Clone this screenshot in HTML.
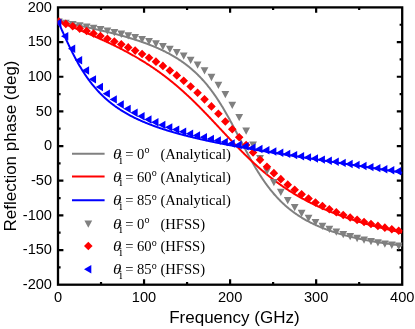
<!DOCTYPE html><html><head><meta charset="utf-8"><style>html,body{margin:0;padding:0;background:#fff;}svg{display:block;will-change:transform}text{font-family:"Liberation Sans",sans-serif;fill:#000}.s{font-family:"Liberation Serif",serif}</style></head><body>
<svg width="415" height="329" viewBox="0 0 415 329">
<rect width="415" height="329" fill="#fff"/>
<defs><clipPath id="c"><rect x="57.60" y="7.00" width="345.00" height="278.10"/></clipPath></defs>
<rect x="58.00" y="7.40" width="344.20" height="277.30" fill="none" stroke="#000" stroke-width="2.30"/>
<path d="M101.03,284.70 v-2.60 M101.03,7.40 v2.60 M144.05,284.70 v-5.40 M144.05,7.40 v5.40 M187.07,284.70 v-2.60 M187.07,7.40 v2.60 M230.10,284.70 v-5.40 M230.10,7.40 v5.40 M273.12,284.70 v-2.60 M273.12,7.40 v2.60 M316.15,284.70 v-5.40 M316.15,7.40 v5.40 M359.18,284.70 v-2.60 M359.18,7.40 v2.60 M58.00,267.37 h2.60 M402.20,267.37 h-2.60 M58.00,250.04 h5.40 M402.20,250.04 h-5.40 M58.00,232.71 h2.60 M402.20,232.71 h-2.60 M58.00,215.38 h5.40 M402.20,215.38 h-5.40 M58.00,198.04 h2.60 M402.20,198.04 h-2.60 M58.00,180.71 h5.40 M402.20,180.71 h-5.40 M58.00,163.38 h2.60 M402.20,163.38 h-2.60 M58.00,146.05 h5.40 M402.20,146.05 h-5.40 M58.00,128.72 h2.60 M402.20,128.72 h-2.60 M58.00,111.39 h5.40 M402.20,111.39 h-5.40 M58.00,94.06 h2.60 M402.20,94.06 h-2.60 M58.00,76.73 h5.40 M402.20,76.73 h-5.40 M58.00,59.39 h2.60 M402.20,59.39 h-2.60 M58.00,42.06 h5.40 M402.20,42.06 h-5.40 M58.00,24.73 h2.60 M402.20,24.73 h-2.60" stroke="#000" stroke-width="2.20" fill="none"/>
<text x="58.00" y="301.90" font-size="14.6" text-anchor="middle">0</text>
<text x="144.05" y="301.90" font-size="14.6" text-anchor="middle">100</text>
<text x="230.10" y="301.90" font-size="14.6" text-anchor="middle">200</text>
<text x="316.15" y="301.90" font-size="14.6" text-anchor="middle">300</text>
<text x="402.20" y="301.90" font-size="14.6" text-anchor="middle">400</text>
<text x="52.00" y="289.00" font-size="14.6" text-anchor="end">-200</text>
<text x="52.00" y="254.34" font-size="14.6" text-anchor="end">-150</text>
<text x="52.00" y="219.68" font-size="14.6" text-anchor="end">-100</text>
<text x="52.00" y="185.01" font-size="14.6" text-anchor="end">-50</text>
<text x="52.00" y="150.35" font-size="14.6" text-anchor="end">0</text>
<text x="52.00" y="115.69" font-size="14.6" text-anchor="end">50</text>
<text x="52.00" y="81.03" font-size="14.6" text-anchor="end">100</text>
<text x="52.00" y="46.36" font-size="14.6" text-anchor="end">150</text>
<text x="52.00" y="11.70" font-size="14.6" text-anchor="end">200</text>
<text x="234.40" y="323.30" font-size="17" text-anchor="middle">Frequency (GHz)</text>
<text transform="translate(15.60,146.00) rotate(-90)" font-size="17" text-anchor="middle">Reflection phase (deg)</text>
<g clip-path="url(#c)">
<path d="M58.00,21.27 L58.43,21.35 L58.86,21.44 L59.29,21.53 L59.72,21.62 L60.15,21.70 L60.58,21.79 L61.01,21.88 L61.44,21.97 L61.87,22.05 L62.30,22.14 L62.73,22.23 L63.16,22.32 L63.59,22.41 L64.02,22.49 L64.45,22.58 L64.88,22.67 L65.31,22.76 L65.74,22.84 L66.17,22.93 L66.61,23.02 L67.04,23.11 L67.47,23.20 L67.90,23.29 L68.33,23.37 L68.76,23.46 L69.19,23.55 L69.62,23.64 L70.05,23.73 L70.48,23.82 L70.91,23.90 L71.34,23.99 L71.77,24.08 L72.20,24.17 L72.63,24.26 L73.06,24.35 L73.49,24.44 L73.92,24.53 L74.35,24.62 L74.78,24.71 L75.21,24.80 L75.64,24.89 L76.07,24.98 L76.50,25.07 L76.93,25.16 L77.36,25.25 L77.79,25.34 L78.22,25.43 L78.65,25.52 L79.08,25.61 L79.51,25.70 L79.94,25.79 L80.37,25.88 L80.80,25.97 L81.23,26.06 L81.66,26.15 L82.09,26.24 L82.52,26.34 L82.95,26.43 L83.38,26.52 L83.81,26.61 L84.25,26.70 L84.68,26.80 L85.11,26.89 L85.54,26.98 L85.97,27.07 L86.40,27.17 L86.83,27.26 L87.26,27.35 L87.69,27.45 L88.12,27.54 L88.55,27.63 L88.98,27.73 L89.41,27.82 L89.84,27.92 L90.27,28.01 L90.70,28.11 L91.13,28.20 L91.56,28.30 L91.99,28.39 L92.42,28.49 L92.85,28.58 L93.28,28.68 L93.71,28.77 L94.14,28.87 L94.57,28.97 L95.00,29.06 L95.43,29.16 L95.86,29.26 L96.29,29.36 L96.72,29.45 L97.15,29.55 L97.58,29.65 L98.01,29.75 L98.44,29.85 L98.87,29.95 L99.30,30.05 L99.73,30.15 L100.16,30.25 L100.59,30.35 L101.03,30.45 L101.46,30.55 L101.89,30.65 L102.32,30.75 L102.75,30.85 L103.18,30.95 L103.61,31.06 L104.04,31.16 L104.47,31.26 L104.90,31.37 L105.33,31.47 L105.76,31.57 L106.19,31.68 L106.62,31.78 L107.05,31.89 L107.48,31.99 L107.91,32.10 L108.34,32.20 L108.77,32.31 L109.20,32.42 L109.63,32.52 L110.06,32.63 L110.49,32.74 L110.92,32.84 L111.35,32.95 L111.78,33.06 L112.21,33.17 L112.64,33.28 L113.07,33.39 L113.50,33.50 L113.93,33.61 L114.36,33.72 L114.79,33.83 L115.22,33.95 L115.65,34.06 L116.08,34.17 L116.51,34.28 L116.94,34.40 L117.37,34.51 L117.80,34.63 L118.23,34.74 L118.67,34.86 L119.10,34.97 L119.53,35.09 L119.96,35.21 L120.39,35.32 L120.82,35.44 L121.25,35.56 L121.68,35.68 L122.11,35.80 L122.54,35.92 L122.97,36.04 L123.40,36.16 L123.83,36.28 L124.26,36.40 L124.69,36.53 L125.12,36.65 L125.55,36.77 L125.98,36.90 L126.41,37.02 L126.84,37.15 L127.27,37.27 L127.70,37.40 L128.13,37.53 L128.56,37.65 L128.99,37.78 L129.42,37.91 L129.85,38.04 L130.28,38.17 L130.71,38.30 L131.14,38.43 L131.57,38.56 L132.00,38.70 L132.43,38.83 L132.86,38.96 L133.29,39.10 L133.72,39.23 L134.15,39.37 L134.58,39.51 L135.01,39.65 L135.44,39.78 L135.88,39.92 L136.31,40.06 L136.74,40.20 L137.17,40.34 L137.60,40.49 L138.03,40.63 L138.46,40.77 L138.89,40.92 L139.32,41.06 L139.75,41.21 L140.18,41.35 L140.61,41.50 L141.04,41.65 L141.47,41.80 L141.90,41.95 L142.33,42.10 L142.76,42.25 L143.19,42.41 L143.62,42.56 L144.05,42.71 L144.48,42.87 L144.91,43.03 L145.34,43.18 L145.77,43.34 L146.20,43.50 L146.63,43.66 L147.06,43.82 L147.49,43.98 L147.92,44.15 L148.35,44.31 L148.78,44.48 L149.21,44.64 L149.64,44.81 L150.07,44.98 L150.50,45.15 L150.93,45.32 L151.36,45.49 L151.79,45.66 L152.22,45.84 L152.66,46.01 L153.09,46.19 L153.52,46.37 L153.95,46.55 L154.38,46.73 L154.81,46.91 L155.24,47.09 L155.67,47.27 L156.10,47.46 L156.53,47.65 L156.96,47.83 L157.39,48.02 L157.82,48.21 L158.25,48.40 L158.68,48.60 L159.11,48.79 L159.54,48.99 L159.97,49.18 L160.40,49.38 L160.83,49.58 L161.26,49.78 L161.69,49.99 L162.12,50.19 L162.55,50.40 L162.98,50.60 L163.41,50.81 L163.84,51.02 L164.27,51.24 L164.70,51.45 L165.13,51.66 L165.56,51.88 L165.99,52.10 L166.42,52.32 L166.85,52.54 L167.28,52.77 L167.71,52.99 L168.14,53.22 L168.57,53.45 L169.00,53.68 L169.43,53.91 L169.87,54.15 L170.30,54.38 L170.73,54.62 L171.16,54.86 L171.59,55.11 L172.02,55.35 L172.45,55.60 L172.88,55.85 L173.31,56.10 L173.74,56.35 L174.17,56.60 L174.60,56.86 L175.03,57.12 L175.46,57.38 L175.89,57.65 L176.32,57.91 L176.75,58.18 L177.18,58.45 L177.61,58.72 L178.04,59.00 L178.47,59.28 L178.90,59.56 L179.33,59.84 L179.76,60.12 L180.19,60.41 L180.62,60.70 L181.05,60.99 L181.48,61.29 L181.91,61.59 L182.34,61.89 L182.77,62.19 L183.20,62.50 L183.63,62.81 L184.06,63.12 L184.49,63.43 L184.92,63.75 L185.35,64.07 L185.78,64.39 L186.21,64.72 L186.64,65.05 L187.07,65.38 L187.51,65.72 L187.94,66.06 L188.37,66.40 L188.80,66.74 L189.23,67.09 L189.66,67.44 L190.09,67.80 L190.52,68.16 L190.95,68.52 L191.38,68.88 L191.81,69.25 L192.24,69.63 L192.67,70.00 L193.10,70.38 L193.53,70.76 L193.96,71.15 L194.39,71.54 L194.82,71.94 L195.25,72.33 L195.68,72.74 L196.11,73.14 L196.54,73.55 L196.97,73.97 L197.40,74.39 L197.83,74.81 L198.26,75.24 L198.69,75.67 L199.12,76.10 L199.55,76.54 L199.98,76.98 L200.41,77.43 L200.84,77.88 L201.27,78.34 L201.70,78.80 L202.13,79.27 L202.56,79.74 L202.99,80.21 L203.42,80.69 L203.85,81.18 L204.28,81.67 L204.72,82.16 L205.15,82.66 L205.58,83.16 L206.01,83.67 L206.44,84.18 L206.87,84.70 L207.30,85.22 L207.73,85.75 L208.16,86.29 L208.59,86.83 L209.02,87.37 L209.45,87.92 L209.88,88.47 L210.31,89.03 L210.74,89.59 L211.17,90.16 L211.60,90.74 L212.03,91.32 L212.46,91.91 L212.89,92.50 L213.32,93.09 L213.75,93.69 L214.18,94.30 L214.61,94.91 L215.04,95.53 L215.47,96.15 L215.90,96.78 L216.33,97.42 L216.76,98.06 L217.19,98.70 L217.62,99.35 L218.05,100.01 L218.48,100.67 L218.91,101.33 L219.34,102.01 L219.77,102.68 L220.20,103.36 L220.63,104.05 L221.06,104.75 L221.50,105.44 L221.93,106.15 L222.36,106.85 L222.79,107.57 L223.22,108.28 L223.65,109.01 L224.08,109.74 L224.51,110.47 L224.94,111.21 L225.37,111.95 L225.80,112.69 L226.23,113.44 L226.66,114.20 L227.09,114.96 L227.52,115.72 L227.95,116.49 L228.38,117.26 L228.81,118.04 L229.24,118.82 L229.67,119.60 L230.10,120.39 L230.53,121.18 L230.96,121.97 L231.39,122.77 L231.82,123.57 L232.25,124.37 L232.68,125.18 L233.11,125.99 L233.54,126.80 L233.97,127.61 L234.40,128.43 L234.83,129.24 L235.26,130.06 L235.69,130.88 L236.12,131.71 L236.55,132.53 L236.98,133.36 L237.41,134.18 L237.84,135.01 L238.27,135.84 L238.71,136.67 L239.14,137.49 L239.57,138.32 L240.00,139.15 L240.43,139.98 L240.86,140.81 L241.29,141.64 L241.72,142.46 L242.15,143.29 L242.58,144.12 L243.01,144.94 L243.44,145.76 L243.87,146.58 L244.30,147.40 L244.73,148.22 L245.16,149.04 L245.59,149.85 L246.02,150.66 L246.45,151.47 L246.88,152.28 L247.31,153.08 L247.74,153.88 L248.17,154.68 L248.60,155.48 L249.03,156.27 L249.46,157.06 L249.89,157.84 L250.32,158.62 L250.75,159.40 L251.18,160.17 L251.61,160.94 L252.04,161.70 L252.47,162.46 L252.90,163.22 L253.33,163.97 L253.76,164.72 L254.19,165.46 L254.62,166.20 L255.05,166.94 L255.48,167.66 L255.91,168.39 L256.35,169.11 L256.78,169.82 L257.21,170.53 L257.64,171.23 L258.07,171.93 L258.50,172.62 L258.93,173.31 L259.36,173.99 L259.79,174.67 L260.22,175.34 L260.65,176.01 L261.08,176.67 L261.51,177.33 L261.94,177.98 L262.37,178.62 L262.80,179.26 L263.23,179.90 L263.66,180.52 L264.09,181.15 L264.52,181.76 L264.95,182.38 L265.38,182.98 L265.81,183.58 L266.24,184.18 L266.67,184.77 L267.10,185.35 L267.53,185.93 L267.96,186.51 L268.39,187.08 L268.82,187.64 L269.25,188.20 L269.68,188.75 L270.11,189.30 L270.54,189.84 L270.97,190.38 L271.40,190.91 L271.83,191.43 L272.26,191.95 L272.69,192.47 L273.12,192.98 L273.56,193.49 L273.99,193.99 L274.42,194.48 L274.85,194.97 L275.28,195.46 L275.71,195.94 L276.14,196.42 L276.57,196.89 L277.00,197.36 L277.43,197.82 L277.86,198.28 L278.29,198.73 L278.72,199.18 L279.15,199.62 L279.58,200.06 L280.01,200.50 L280.44,200.93 L280.87,201.35 L281.30,201.78 L281.73,202.19 L282.16,202.61 L282.59,203.02 L283.02,203.42 L283.45,203.82 L283.88,204.22 L284.31,204.61 L284.74,205.00 L285.17,205.39 L285.60,205.77 L286.03,206.15 L286.46,206.52 L286.89,206.89 L287.32,207.26 L287.75,207.62 L288.18,207.98 L288.61,208.33 L289.04,208.69 L289.47,209.03 L289.90,209.38 L290.34,209.72 L290.77,210.06 L291.20,210.39 L291.63,210.72 L292.06,211.05 L292.49,211.38 L292.92,211.70 L293.35,212.02 L293.78,212.33 L294.21,212.65 L294.64,212.96 L295.07,213.26 L295.50,213.57 L295.93,213.87 L296.36,214.16 L296.79,214.46 L297.22,214.75 L297.65,215.04 L298.08,215.33 L298.51,215.61 L298.94,215.89 L299.37,216.17 L299.80,216.44 L300.23,216.72 L300.66,216.99 L301.09,217.25 L301.52,217.52 L301.95,217.78 L302.38,218.04 L302.81,218.30 L303.24,218.56 L303.67,218.81 L304.10,219.06 L304.53,219.31 L304.96,219.55 L305.39,219.80 L305.82,220.04 L306.25,220.28 L306.68,220.52 L307.11,220.75 L307.54,220.99 L307.98,221.22 L308.41,221.44 L308.84,221.67 L309.27,221.90 L309.70,222.12 L310.13,222.34 L310.56,222.56 L310.99,222.78 L311.42,222.99 L311.85,223.20 L312.28,223.42 L312.71,223.62 L313.14,223.83 L313.57,224.04 L314.00,224.24 L314.43,224.44 L314.86,224.64 L315.29,224.84 L315.72,225.04 L316.15,225.24 L316.58,225.43 L317.01,225.62 L317.44,225.81 L317.87,226.00 L318.30,226.19 L318.73,226.37 L319.16,226.56 L319.59,226.74 L320.02,226.92 L320.45,227.10 L320.88,227.28 L321.31,227.46 L321.74,227.63 L322.17,227.80 L322.60,227.98 L323.03,228.15 L323.46,228.32 L323.89,228.48 L324.32,228.65 L324.75,228.82 L325.19,228.98 L325.62,229.14 L326.05,229.31 L326.48,229.47 L326.91,229.62 L327.34,229.78 L327.77,229.94 L328.20,230.09 L328.63,230.25 L329.06,230.40 L329.49,230.55 L329.92,230.70 L330.35,230.85 L330.78,231.00 L331.21,231.15 L331.64,231.29 L332.07,231.44 L332.50,231.58 L332.93,231.72 L333.36,231.86 L333.79,232.00 L334.22,232.14 L334.65,232.28 L335.08,232.42 L335.51,232.55 L335.94,232.69 L336.37,232.82 L336.80,232.96 L337.23,233.09 L337.66,233.22 L338.09,233.35 L338.52,233.48 L338.95,233.61 L339.38,233.73 L339.81,233.86 L340.24,233.99 L340.67,234.11 L341.10,234.23 L341.53,234.36 L341.96,234.48 L342.40,234.60 L342.83,234.72 L343.26,234.84 L343.69,234.96 L344.12,235.08 L344.55,235.19 L344.98,235.31 L345.41,235.42 L345.84,235.54 L346.27,235.65 L346.70,235.76 L347.13,235.88 L347.56,235.99 L347.99,236.10 L348.42,236.21 L348.85,236.32 L349.28,236.42 L349.71,236.53 L350.14,236.64 L350.57,236.74 L351.00,236.85 L351.43,236.95 L351.86,237.06 L352.29,237.16 L352.72,237.26 L353.15,237.36 L353.58,237.46 L354.01,237.56 L354.44,237.66 L354.87,237.76 L355.30,237.86 L355.73,237.96 L356.16,238.06 L356.59,238.15 L357.02,238.25 L357.45,238.34 L357.88,238.44 L358.31,238.53 L358.74,238.62 L359.18,238.72 L359.61,238.81 L360.04,238.90 L360.47,238.99 L360.90,239.08 L361.33,239.17 L361.76,239.26 L362.19,239.35 L362.62,239.43 L363.05,239.52 L363.48,239.61 L363.91,239.70 L364.34,239.78 L364.77,239.87 L365.20,239.95 L365.63,240.03 L366.06,240.12 L366.49,240.20 L366.92,240.28 L367.35,240.37 L367.78,240.45 L368.21,240.53 L368.64,240.61 L369.07,240.69 L369.50,240.77 L369.93,240.85 L370.36,240.92 L370.79,241.00 L371.22,241.08 L371.65,241.16 L372.08,241.23 L372.51,241.31 L372.94,241.38 L373.37,241.46 L373.80,241.53 L374.23,241.61 L374.66,241.68 L375.09,241.76 L375.52,241.83 L375.95,241.90 L376.38,241.97 L376.82,242.04 L377.25,242.11 L377.68,242.19 L378.11,242.26 L378.54,242.33 L378.97,242.39 L379.40,242.46 L379.83,242.53 L380.26,242.60 L380.69,242.67 L381.12,242.74 L381.55,242.80 L381.98,242.87 L382.41,242.94 L382.84,243.00 L383.27,243.07 L383.70,243.13 L384.13,243.20 L384.56,243.26 L384.99,243.32 L385.42,243.39 L385.85,243.45 L386.28,243.51 L386.71,243.58 L387.14,243.64 L387.57,243.70 L388.00,243.76 L388.43,243.82 L388.86,243.88 L389.29,243.94 L389.72,244.00 L390.15,244.06 L390.58,244.12 L391.01,244.18 L391.44,244.24 L391.87,244.30 L392.30,244.35 L392.73,244.41 L393.16,244.47 L393.60,244.53 L394.03,244.58 L394.46,244.64 L394.89,244.69 L395.32,244.75 L395.75,244.80 L396.18,244.86 L396.61,244.91 L397.04,244.97 L397.47,245.02 L397.90,245.08 L398.33,245.13 L398.76,245.18 L399.19,245.24 L399.62,245.29 L400.05,245.34 L400.48,245.39 L400.91,245.44 L401.34,245.49 L401.77,245.55 L402.20,245.60" fill="none" stroke="#808080" stroke-width="2.00" stroke-linejoin="round"/>
<path d="M58.00,21.27 L58.43,21.44 L58.86,21.61 L59.29,21.78 L59.72,21.96 L60.15,22.13 L60.58,22.30 L61.01,22.48 L61.44,22.65 L61.87,22.82 L62.30,23.00 L62.73,23.17 L63.16,23.34 L63.59,23.52 L64.02,23.69 L64.45,23.86 L64.88,24.04 L65.31,24.21 L65.74,24.38 L66.17,24.56 L66.61,24.73 L67.04,24.91 L67.47,25.08 L67.90,25.25 L68.33,25.43 L68.76,25.60 L69.19,25.78 L69.62,25.95 L70.05,26.13 L70.48,26.30 L70.91,26.48 L71.34,26.65 L71.77,26.83 L72.20,27.00 L72.63,27.18 L73.06,27.35 L73.49,27.53 L73.92,27.70 L74.35,27.88 L74.78,28.05 L75.21,28.23 L75.64,28.41 L76.07,28.58 L76.50,28.76 L76.93,28.94 L77.36,29.12 L77.79,29.29 L78.22,29.47 L78.65,29.65 L79.08,29.83 L79.51,30.00 L79.94,30.18 L80.37,30.36 L80.80,30.54 L81.23,30.72 L81.66,30.90 L82.09,31.08 L82.52,31.26 L82.95,31.44 L83.38,31.62 L83.81,31.80 L84.25,31.98 L84.68,32.16 L85.11,32.34 L85.54,32.52 L85.97,32.70 L86.40,32.89 L86.83,33.07 L87.26,33.25 L87.69,33.43 L88.12,33.62 L88.55,33.80 L88.98,33.98 L89.41,34.17 L89.84,34.35 L90.27,34.54 L90.70,34.72 L91.13,34.91 L91.56,35.09 L91.99,35.28 L92.42,35.47 L92.85,35.65 L93.28,35.84 L93.71,36.03 L94.14,36.21 L94.57,36.40 L95.00,36.59 L95.43,36.78 L95.86,36.97 L96.29,37.16 L96.72,37.35 L97.15,37.54 L97.58,37.73 L98.01,37.92 L98.44,38.11 L98.87,38.31 L99.30,38.50 L99.73,38.69 L100.16,38.89 L100.59,39.08 L101.03,39.27 L101.46,39.47 L101.89,39.66 L102.32,39.86 L102.75,40.06 L103.18,40.25 L103.61,40.45 L104.04,40.65 L104.47,40.84 L104.90,41.04 L105.33,41.24 L105.76,41.44 L106.19,41.64 L106.62,41.84 L107.05,42.04 L107.48,42.24 L107.91,42.45 L108.34,42.65 L108.77,42.85 L109.20,43.06 L109.63,43.26 L110.06,43.46 L110.49,43.67 L110.92,43.88 L111.35,44.08 L111.78,44.29 L112.21,44.50 L112.64,44.71 L113.07,44.91 L113.50,45.12 L113.93,45.33 L114.36,45.54 L114.79,45.76 L115.22,45.97 L115.65,46.18 L116.08,46.39 L116.51,46.61 L116.94,46.82 L117.37,47.04 L117.80,47.25 L118.23,47.47 L118.67,47.69 L119.10,47.90 L119.53,48.12 L119.96,48.34 L120.39,48.56 L120.82,48.78 L121.25,49.00 L121.68,49.22 L122.11,49.45 L122.54,49.67 L122.97,49.89 L123.40,50.12 L123.83,50.34 L124.26,50.57 L124.69,50.80 L125.12,51.03 L125.55,51.25 L125.98,51.48 L126.41,51.71 L126.84,51.95 L127.27,52.18 L127.70,52.41 L128.13,52.64 L128.56,52.88 L128.99,53.11 L129.42,53.35 L129.85,53.58 L130.28,53.82 L130.71,54.06 L131.14,54.30 L131.57,54.54 L132.00,54.78 L132.43,55.02 L132.86,55.27 L133.29,55.51 L133.72,55.75 L134.15,56.00 L134.58,56.25 L135.01,56.49 L135.44,56.74 L135.88,56.99 L136.31,57.24 L136.74,57.49 L137.17,57.74 L137.60,58.00 L138.03,58.25 L138.46,58.50 L138.89,58.76 L139.32,59.02 L139.75,59.27 L140.18,59.53 L140.61,59.79 L141.04,60.05 L141.47,60.31 L141.90,60.58 L142.33,60.84 L142.76,61.11 L143.19,61.37 L143.62,61.64 L144.05,61.91 L144.48,62.18 L144.91,62.45 L145.34,62.72 L145.77,62.99 L146.20,63.26 L146.63,63.54 L147.06,63.81 L147.49,64.09 L147.92,64.37 L148.35,64.65 L148.78,64.93 L149.21,65.21 L149.64,65.49 L150.07,65.77 L150.50,66.06 L150.93,66.34 L151.36,66.63 L151.79,66.92 L152.22,67.21 L152.66,67.50 L153.09,67.79 L153.52,68.08 L153.95,68.38 L154.38,68.67 L154.81,68.97 L155.24,69.27 L155.67,69.57 L156.10,69.87 L156.53,70.17 L156.96,70.47 L157.39,70.77 L157.82,71.08 L158.25,71.39 L158.68,71.69 L159.11,72.00 L159.54,72.31 L159.97,72.62 L160.40,72.94 L160.83,73.25 L161.26,73.57 L161.69,73.88 L162.12,74.20 L162.55,74.52 L162.98,74.84 L163.41,75.16 L163.84,75.49 L164.27,75.81 L164.70,76.14 L165.13,76.47 L165.56,76.79 L165.99,77.12 L166.42,77.46 L166.85,77.79 L167.28,78.12 L167.71,78.46 L168.14,78.80 L168.57,79.13 L169.00,79.47 L169.43,79.82 L169.87,80.16 L170.30,80.50 L170.73,80.85 L171.16,81.19 L171.59,81.54 L172.02,81.89 L172.45,82.24 L172.88,82.59 L173.31,82.95 L173.74,83.30 L174.17,83.66 L174.60,84.02 L175.03,84.38 L175.46,84.74 L175.89,85.10 L176.32,85.46 L176.75,85.83 L177.18,86.19 L177.61,86.56 L178.04,86.93 L178.47,87.30 L178.90,87.67 L179.33,88.05 L179.76,88.42 L180.19,88.80 L180.62,89.18 L181.05,89.55 L181.48,89.94 L181.91,90.32 L182.34,90.70 L182.77,91.08 L183.20,91.47 L183.63,91.86 L184.06,92.25 L184.49,92.64 L184.92,93.03 L185.35,93.42 L185.78,93.81 L186.21,94.21 L186.64,94.61 L187.07,95.01 L187.51,95.40 L187.94,95.81 L188.37,96.21 L188.80,96.61 L189.23,97.02 L189.66,97.42 L190.09,97.83 L190.52,98.24 L190.95,98.65 L191.38,99.06 L191.81,99.47 L192.24,99.89 L192.67,100.30 L193.10,100.72 L193.53,101.13 L193.96,101.55 L194.39,101.97 L194.82,102.39 L195.25,102.82 L195.68,103.24 L196.11,103.66 L196.54,104.09 L196.97,104.52 L197.40,104.94 L197.83,105.37 L198.26,105.80 L198.69,106.23 L199.12,106.67 L199.55,107.10 L199.98,107.53 L200.41,107.97 L200.84,108.41 L201.27,108.84 L201.70,109.28 L202.13,109.72 L202.56,110.16 L202.99,110.60 L203.42,111.04 L203.85,111.49 L204.28,111.93 L204.72,112.37 L205.15,112.82 L205.58,113.27 L206.01,113.71 L206.44,114.16 L206.87,114.61 L207.30,115.06 L207.73,115.51 L208.16,115.96 L208.59,116.41 L209.02,116.86 L209.45,117.31 L209.88,117.77 L210.31,118.22 L210.74,118.68 L211.17,119.13 L211.60,119.59 L212.03,120.04 L212.46,120.50 L212.89,120.95 L213.32,121.41 L213.75,121.87 L214.18,122.33 L214.61,122.79 L215.04,123.24 L215.47,123.70 L215.90,124.16 L216.33,124.62 L216.76,125.08 L217.19,125.54 L217.62,126.00 L218.05,126.46 L218.48,126.92 L218.91,127.38 L219.34,127.84 L219.77,128.31 L220.20,128.77 L220.63,129.23 L221.06,129.69 L221.50,130.15 L221.93,130.61 L222.36,131.07 L222.79,131.53 L223.22,131.99 L223.65,132.45 L224.08,132.91 L224.51,133.37 L224.94,133.83 L225.37,134.29 L225.80,134.75 L226.23,135.21 L226.66,135.67 L227.09,136.13 L227.52,136.59 L227.95,137.04 L228.38,137.50 L228.81,137.96 L229.24,138.41 L229.67,138.87 L230.10,139.33 L230.53,139.78 L230.96,140.23 L231.39,140.69 L231.82,141.14 L232.25,141.59 L232.68,142.04 L233.11,142.50 L233.54,142.95 L233.97,143.40 L234.40,143.85 L234.83,144.29 L235.26,144.74 L235.69,145.19 L236.12,145.63 L236.55,146.08 L236.98,146.52 L237.41,146.97 L237.84,147.41 L238.27,147.85 L238.71,148.29 L239.14,148.73 L239.57,149.17 L240.00,149.61 L240.43,150.04 L240.86,150.48 L241.29,150.91 L241.72,151.35 L242.15,151.78 L242.58,152.21 L243.01,152.64 L243.44,153.07 L243.87,153.50 L244.30,153.93 L244.73,154.35 L245.16,154.78 L245.59,155.20 L246.02,155.62 L246.45,156.04 L246.88,156.46 L247.31,156.88 L247.74,157.30 L248.17,157.71 L248.60,158.13 L249.03,158.54 L249.46,158.95 L249.89,159.36 L250.32,159.77 L250.75,160.18 L251.18,160.59 L251.61,160.99 L252.04,161.40 L252.47,161.80 L252.90,162.20 L253.33,162.60 L253.76,163.00 L254.19,163.40 L254.62,163.79 L255.05,164.19 L255.48,164.58 L255.91,164.97 L256.35,165.36 L256.78,165.75 L257.21,166.13 L257.64,166.52 L258.07,166.90 L258.50,167.29 L258.93,167.67 L259.36,168.05 L259.79,168.42 L260.22,168.80 L260.65,169.18 L261.08,169.55 L261.51,169.92 L261.94,170.29 L262.37,170.66 L262.80,171.03 L263.23,171.39 L263.66,171.76 L264.09,172.12 L264.52,172.48 L264.95,172.84 L265.38,173.20 L265.81,173.56 L266.24,173.91 L266.67,174.27 L267.10,174.62 L267.53,174.97 L267.96,175.32 L268.39,175.66 L268.82,176.01 L269.25,176.35 L269.68,176.70 L270.11,177.04 L270.54,177.38 L270.97,177.72 L271.40,178.05 L271.83,178.39 L272.26,178.72 L272.69,179.05 L273.12,179.39 L273.56,179.71 L273.99,180.04 L274.42,180.37 L274.85,180.69 L275.28,181.02 L275.71,181.34 L276.14,181.66 L276.57,181.98 L277.00,182.29 L277.43,182.61 L277.86,182.92 L278.29,183.24 L278.72,183.55 L279.15,183.86 L279.58,184.16 L280.01,184.47 L280.44,184.78 L280.87,185.08 L281.30,185.38 L281.73,185.68 L282.16,185.98 L282.59,186.28 L283.02,186.58 L283.45,186.87 L283.88,187.17 L284.31,187.46 L284.74,187.75 L285.17,188.04 L285.60,188.33 L286.03,188.61 L286.46,188.90 L286.89,189.18 L287.32,189.46 L287.75,189.75 L288.18,190.03 L288.61,190.30 L289.04,190.58 L289.47,190.86 L289.90,191.13 L290.34,191.40 L290.77,191.67 L291.20,191.95 L291.63,192.21 L292.06,192.48 L292.49,192.75 L292.92,193.01 L293.35,193.28 L293.78,193.54 L294.21,193.80 L294.64,194.06 L295.07,194.32 L295.50,194.57 L295.93,194.83 L296.36,195.09 L296.79,195.34 L297.22,195.59 L297.65,195.84 L298.08,196.09 L298.51,196.34 L298.94,196.59 L299.37,196.83 L299.80,197.08 L300.23,197.32 L300.66,197.56 L301.09,197.80 L301.52,198.04 L301.95,198.28 L302.38,198.52 L302.81,198.76 L303.24,198.99 L303.67,199.23 L304.10,199.46 L304.53,199.69 L304.96,199.92 L305.39,200.15 L305.82,200.38 L306.25,200.61 L306.68,200.83 L307.11,201.06 L307.54,201.28 L307.98,201.51 L308.41,201.73 L308.84,201.95 L309.27,202.17 L309.70,202.39 L310.13,202.60 L310.56,202.82 L310.99,203.04 L311.42,203.25 L311.85,203.46 L312.28,203.68 L312.71,203.89 L313.14,204.10 L313.57,204.31 L314.00,204.51 L314.43,204.72 L314.86,204.93 L315.29,205.13 L315.72,205.34 L316.15,205.54 L316.58,205.74 L317.01,205.94 L317.44,206.14 L317.87,206.34 L318.30,206.54 L318.73,206.74 L319.16,206.94 L319.59,207.13 L320.02,207.33 L320.45,207.52 L320.88,207.71 L321.31,207.90 L321.74,208.09 L322.17,208.29 L322.60,208.47 L323.03,208.66 L323.46,208.85 L323.89,209.04 L324.32,209.22 L324.75,209.41 L325.19,209.59 L325.62,209.77 L326.05,209.96 L326.48,210.14 L326.91,210.32 L327.34,210.50 L327.77,210.68 L328.20,210.85 L328.63,211.03 L329.06,211.21 L329.49,211.38 L329.92,211.56 L330.35,211.73 L330.78,211.91 L331.21,212.08 L331.64,212.25 L332.07,212.42 L332.50,212.59 L332.93,212.76 L333.36,212.93 L333.79,213.10 L334.22,213.26 L334.65,213.43 L335.08,213.59 L335.51,213.76 L335.94,213.92 L336.37,214.09 L336.80,214.25 L337.23,214.41 L337.66,214.57 L338.09,214.73 L338.52,214.89 L338.95,215.05 L339.38,215.21 L339.81,215.37 L340.24,215.52 L340.67,215.68 L341.10,215.84 L341.53,215.99 L341.96,216.14 L342.40,216.30 L342.83,216.45 L343.26,216.60 L343.69,216.75 L344.12,216.90 L344.55,217.05 L344.98,217.20 L345.41,217.35 L345.84,217.50 L346.27,217.65 L346.70,217.80 L347.13,217.94 L347.56,218.09 L347.99,218.23 L348.42,218.38 L348.85,218.52 L349.28,218.66 L349.71,218.81 L350.14,218.95 L350.57,219.09 L351.00,219.23 L351.43,219.37 L351.86,219.51 L352.29,219.65 L352.72,219.79 L353.15,219.93 L353.58,220.06 L354.01,220.20 L354.44,220.34 L354.87,220.47 L355.30,220.61 L355.73,220.74 L356.16,220.87 L356.59,221.01 L357.02,221.14 L357.45,221.27 L357.88,221.40 L358.31,221.54 L358.74,221.67 L359.18,221.80 L359.61,221.93 L360.04,222.05 L360.47,222.18 L360.90,222.31 L361.33,222.44 L361.76,222.57 L362.19,222.69 L362.62,222.82 L363.05,222.94 L363.48,223.07 L363.91,223.19 L364.34,223.32 L364.77,223.44 L365.20,223.56 L365.63,223.69 L366.06,223.81 L366.49,223.93 L366.92,224.05 L367.35,224.17 L367.78,224.29 L368.21,224.41 L368.64,224.53 L369.07,224.65 L369.50,224.77 L369.93,224.88 L370.36,225.00 L370.79,225.12 L371.22,225.24 L371.65,225.35 L372.08,225.47 L372.51,225.58 L372.94,225.70 L373.37,225.81 L373.80,225.92 L374.23,226.04 L374.66,226.15 L375.09,226.26 L375.52,226.38 L375.95,226.49 L376.38,226.60 L376.82,226.71 L377.25,226.82 L377.68,226.93 L378.11,227.04 L378.54,227.15 L378.97,227.26 L379.40,227.37 L379.83,227.47 L380.26,227.58 L380.69,227.69 L381.12,227.79 L381.55,227.90 L381.98,228.01 L382.41,228.11 L382.84,228.22 L383.27,228.32 L383.70,228.43 L384.13,228.53 L384.56,228.64 L384.99,228.74 L385.42,228.84 L385.85,228.94 L386.28,229.05 L386.71,229.15 L387.14,229.25 L387.57,229.35 L388.00,229.45 L388.43,229.55 L388.86,229.65 L389.29,229.75 L389.72,229.85 L390.15,229.95 L390.58,230.05 L391.01,230.15 L391.44,230.24 L391.87,230.34 L392.30,230.44 L392.73,230.54 L393.16,230.63 L393.60,230.73 L394.03,230.83 L394.46,230.92 L394.89,231.02 L395.32,231.11 L395.75,231.21 L396.18,231.30 L396.61,231.39 L397.04,231.49 L397.47,231.58 L397.90,231.67 L398.33,231.77 L398.76,231.86 L399.19,231.95 L399.62,232.04 L400.05,232.13 L400.48,232.23 L400.91,232.32 L401.34,232.41 L401.77,232.50 L402.20,232.59" fill="none" stroke="#ff0000" stroke-width="2.00" stroke-linejoin="round"/>
<path d="M58.00,21.27 L58.43,22.24 L58.86,23.22 L59.29,24.20 L59.72,25.18 L60.15,26.15 L60.58,27.13 L61.01,28.10 L61.44,29.07 L61.87,30.04 L62.30,31.01 L62.73,31.98 L63.16,32.94 L63.59,33.90 L64.02,34.85 L64.45,35.80 L64.88,36.75 L65.31,37.70 L65.74,38.64 L66.17,39.57 L66.61,40.51 L67.04,41.43 L67.47,42.35 L67.90,43.27 L68.33,44.18 L68.76,45.09 L69.19,45.99 L69.62,46.88 L70.05,47.77 L70.48,48.66 L70.91,49.53 L71.34,50.40 L71.77,51.27 L72.20,52.13 L72.63,52.98 L73.06,53.82 L73.49,54.66 L73.92,55.49 L74.35,56.32 L74.78,57.13 L75.21,57.94 L75.64,58.75 L76.07,59.54 L76.50,60.33 L76.93,61.11 L77.36,61.89 L77.79,62.66 L78.22,63.42 L78.65,64.17 L79.08,64.92 L79.51,65.66 L79.94,66.39 L80.37,67.11 L80.80,67.83 L81.23,68.54 L81.66,69.24 L82.09,69.94 L82.52,70.63 L82.95,71.31 L83.38,71.98 L83.81,72.65 L84.25,73.31 L84.68,73.96 L85.11,74.61 L85.54,75.25 L85.97,75.88 L86.40,76.51 L86.83,77.13 L87.26,77.74 L87.69,78.35 L88.12,78.95 L88.55,79.54 L88.98,80.13 L89.41,80.71 L89.84,81.28 L90.27,81.85 L90.70,82.41 L91.13,82.97 L91.56,83.52 L91.99,84.06 L92.42,84.60 L92.85,85.13 L93.28,85.66 L93.71,86.18 L94.14,86.69 L94.57,87.20 L95.00,87.70 L95.43,88.20 L95.86,88.69 L96.29,89.18 L96.72,89.66 L97.15,90.14 L97.58,90.61 L98.01,91.08 L98.44,91.54 L98.87,92.00 L99.30,92.45 L99.73,92.90 L100.16,93.34 L100.59,93.78 L101.03,94.21 L101.46,94.64 L101.89,95.06 L102.32,95.48 L102.75,95.89 L103.18,96.31 L103.61,96.71 L104.04,97.11 L104.47,97.51 L104.90,97.91 L105.33,98.30 L105.76,98.68 L106.19,99.06 L106.62,99.44 L107.05,99.82 L107.48,100.19 L107.91,100.55 L108.34,100.92 L108.77,101.28 L109.20,101.63 L109.63,101.98 L110.06,102.33 L110.49,102.68 L110.92,103.02 L111.35,103.36 L111.78,103.69 L112.21,104.03 L112.64,104.36 L113.07,104.68 L113.50,105.00 L113.93,105.32 L114.36,105.64 L114.79,105.95 L115.22,106.27 L115.65,106.57 L116.08,106.88 L116.51,107.18 L116.94,107.48 L117.37,107.78 L117.80,108.07 L118.23,108.36 L118.67,108.65 L119.10,108.94 L119.53,109.22 L119.96,109.50 L120.39,109.78 L120.82,110.06 L121.25,110.33 L121.68,110.60 L122.11,110.87 L122.54,111.14 L122.97,111.40 L123.40,111.66 L123.83,111.92 L124.26,112.18 L124.69,112.44 L125.12,112.69 L125.55,112.94 L125.98,113.19 L126.41,113.44 L126.84,113.68 L127.27,113.93 L127.70,114.17 L128.13,114.41 L128.56,114.64 L128.99,114.88 L129.42,115.11 L129.85,115.34 L130.28,115.57 L130.71,115.80 L131.14,116.03 L131.57,116.25 L132.00,116.47 L132.43,116.70 L132.86,116.91 L133.29,117.13 L133.72,117.35 L134.15,117.56 L134.58,117.78 L135.01,117.99 L135.44,118.20 L135.88,118.40 L136.31,118.61 L136.74,118.82 L137.17,119.02 L137.60,119.22 L138.03,119.42 L138.46,119.62 L138.89,119.82 L139.32,120.02 L139.75,120.21 L140.18,120.40 L140.61,120.60 L141.04,120.79 L141.47,120.98 L141.90,121.17 L142.33,121.35 L142.76,121.54 L143.19,121.72 L143.62,121.91 L144.05,122.09 L144.48,122.27 L144.91,122.45 L145.34,122.63 L145.77,122.81 L146.20,122.98 L146.63,123.16 L147.06,123.33 L147.49,123.50 L147.92,123.68 L148.35,123.85 L148.78,124.02 L149.21,124.19 L149.64,124.35 L150.07,124.52 L150.50,124.68 L150.93,124.85 L151.36,125.01 L151.79,125.18 L152.22,125.34 L152.66,125.50 L153.09,125.66 L153.52,125.82 L153.95,125.97 L154.38,126.13 L154.81,126.29 L155.24,126.44 L155.67,126.60 L156.10,126.75 L156.53,126.90 L156.96,127.05 L157.39,127.20 L157.82,127.35 L158.25,127.50 L158.68,127.65 L159.11,127.80 L159.54,127.94 L159.97,128.09 L160.40,128.23 L160.83,128.38 L161.26,128.52 L161.69,128.66 L162.12,128.81 L162.55,128.95 L162.98,129.09 L163.41,129.23 L163.84,129.37 L164.27,129.50 L164.70,129.64 L165.13,129.78 L165.56,129.92 L165.99,130.05 L166.42,130.19 L166.85,130.32 L167.28,130.45 L167.71,130.59 L168.14,130.72 L168.57,130.85 L169.00,130.98 L169.43,131.11 L169.87,131.24 L170.30,131.37 L170.73,131.50 L171.16,131.62 L171.59,131.75 L172.02,131.88 L172.45,132.00 L172.88,132.13 L173.31,132.25 L173.74,132.38 L174.17,132.50 L174.60,132.63 L175.03,132.75 L175.46,132.87 L175.89,132.99 L176.32,133.11 L176.75,133.23 L177.18,133.35 L177.61,133.47 L178.04,133.59 L178.47,133.71 L178.90,133.83 L179.33,133.94 L179.76,134.06 L180.19,134.18 L180.62,134.29 L181.05,134.41 L181.48,134.52 L181.91,134.64 L182.34,134.75 L182.77,134.86 L183.20,134.98 L183.63,135.09 L184.06,135.20 L184.49,135.31 L184.92,135.42 L185.35,135.54 L185.78,135.65 L186.21,135.76 L186.64,135.86 L187.07,135.97 L187.51,136.08 L187.94,136.19 L188.37,136.30 L188.80,136.41 L189.23,136.51 L189.66,136.62 L190.09,136.73 L190.52,136.83 L190.95,136.94 L191.38,137.04 L191.81,137.15 L192.24,137.25 L192.67,137.35 L193.10,137.46 L193.53,137.56 L193.96,137.66 L194.39,137.77 L194.82,137.87 L195.25,137.97 L195.68,138.07 L196.11,138.17 L196.54,138.27 L196.97,138.37 L197.40,138.47 L197.83,138.57 L198.26,138.67 L198.69,138.77 L199.12,138.87 L199.55,138.97 L199.98,139.07 L200.41,139.16 L200.84,139.26 L201.27,139.36 L201.70,139.45 L202.13,139.55 L202.56,139.65 L202.99,139.74 L203.42,139.84 L203.85,139.93 L204.28,140.03 L204.72,140.12 L205.15,140.22 L205.58,140.31 L206.01,140.41 L206.44,140.50 L206.87,140.59 L207.30,140.69 L207.73,140.78 L208.16,140.87 L208.59,140.96 L209.02,141.05 L209.45,141.15 L209.88,141.24 L210.31,141.33 L210.74,141.42 L211.17,141.51 L211.60,141.60 L212.03,141.69 L212.46,141.78 L212.89,141.87 L213.32,141.96 L213.75,142.05 L214.18,142.14 L214.61,142.23 L215.04,142.31 L215.47,142.40 L215.90,142.49 L216.33,142.58 L216.76,142.66 L217.19,142.75 L217.62,142.84 L218.05,142.93 L218.48,143.01 L218.91,143.10 L219.34,143.18 L219.77,143.27 L220.20,143.36 L220.63,143.44 L221.06,143.53 L221.50,143.61 L221.93,143.70 L222.36,143.78 L222.79,143.87 L223.22,143.95 L223.65,144.03 L224.08,144.12 L224.51,144.20 L224.94,144.28 L225.37,144.37 L225.80,144.45 L226.23,144.53 L226.66,144.62 L227.09,144.70 L227.52,144.78 L227.95,144.86 L228.38,144.94 L228.81,145.03 L229.24,145.11 L229.67,145.19 L230.10,145.27 L230.53,145.35 L230.96,145.43 L231.39,145.51 L231.82,145.59 L232.25,145.67 L232.68,145.75 L233.11,145.83 L233.54,145.91 L233.97,145.99 L234.40,146.07 L234.83,146.15 L235.26,146.23 L235.69,146.31 L236.12,146.39 L236.55,146.47 L236.98,146.55 L237.41,146.63 L237.84,146.70 L238.27,146.78 L238.71,146.86 L239.14,146.94 L239.57,147.01 L240.00,147.09 L240.43,147.17 L240.86,147.25 L241.29,147.32 L241.72,147.40 L242.15,147.48 L242.58,147.55 L243.01,147.63 L243.44,147.71 L243.87,147.78 L244.30,147.86 L244.73,147.94 L245.16,148.01 L245.59,148.09 L246.02,148.16 L246.45,148.24 L246.88,148.31 L247.31,148.39 L247.74,148.46 L248.17,148.54 L248.60,148.61 L249.03,148.69 L249.46,148.76 L249.89,148.84 L250.32,148.91 L250.75,148.99 L251.18,149.06 L251.61,149.13 L252.04,149.21 L252.47,149.28 L252.90,149.36 L253.33,149.43 L253.76,149.50 L254.19,149.58 L254.62,149.65 L255.05,149.72 L255.48,149.80 L255.91,149.87 L256.35,149.94 L256.78,150.01 L257.21,150.09 L257.64,150.16 L258.07,150.23 L258.50,150.30 L258.93,150.38 L259.36,150.45 L259.79,150.52 L260.22,150.59 L260.65,150.66 L261.08,150.74 L261.51,150.81 L261.94,150.88 L262.37,150.95 L262.80,151.02 L263.23,151.09 L263.66,151.16 L264.09,151.23 L264.52,151.31 L264.95,151.38 L265.38,151.45 L265.81,151.52 L266.24,151.59 L266.67,151.66 L267.10,151.73 L267.53,151.80 L267.96,151.87 L268.39,151.94 L268.82,152.01 L269.25,152.08 L269.68,152.15 L270.11,152.22 L270.54,152.29 L270.97,152.36 L271.40,152.43 L271.83,152.50 L272.26,152.57 L272.69,152.64 L273.12,152.71 L273.56,152.78 L273.99,152.85 L274.42,152.92 L274.85,152.98 L275.28,153.05 L275.71,153.12 L276.14,153.19 L276.57,153.26 L277.00,153.33 L277.43,153.40 L277.86,153.47 L278.29,153.54 L278.72,153.60 L279.15,153.67 L279.58,153.74 L280.01,153.81 L280.44,153.88 L280.87,153.95 L281.30,154.01 L281.73,154.08 L282.16,154.15 L282.59,154.22 L283.02,154.29 L283.45,154.35 L283.88,154.42 L284.31,154.49 L284.74,154.56 L285.17,154.62 L285.60,154.69 L286.03,154.76 L286.46,154.83 L286.89,154.89 L287.32,154.96 L287.75,155.03 L288.18,155.10 L288.61,155.16 L289.04,155.23 L289.47,155.30 L289.90,155.37 L290.34,155.43 L290.77,155.50 L291.20,155.57 L291.63,155.63 L292.06,155.70 L292.49,155.77 L292.92,155.83 L293.35,155.90 L293.78,155.97 L294.21,156.03 L294.64,156.10 L295.07,156.17 L295.50,156.23 L295.93,156.30 L296.36,156.37 L296.79,156.43 L297.22,156.50 L297.65,156.57 L298.08,156.63 L298.51,156.70 L298.94,156.76 L299.37,156.83 L299.80,156.90 L300.23,156.96 L300.66,157.03 L301.09,157.10 L301.52,157.16 L301.95,157.23 L302.38,157.29 L302.81,157.36 L303.24,157.43 L303.67,157.49 L304.10,157.56 L304.53,157.62 L304.96,157.69 L305.39,157.76 L305.82,157.82 L306.25,157.89 L306.68,157.95 L307.11,158.02 L307.54,158.08 L307.98,158.15 L308.41,158.22 L308.84,158.28 L309.27,158.35 L309.70,158.41 L310.13,158.48 L310.56,158.54 L310.99,158.61 L311.42,158.67 L311.85,158.74 L312.28,158.81 L312.71,158.87 L313.14,158.94 L313.57,159.00 L314.00,159.07 L314.43,159.13 L314.86,159.20 L315.29,159.26 L315.72,159.33 L316.15,159.39 L316.58,159.46 L317.01,159.52 L317.44,159.59 L317.87,159.66 L318.30,159.72 L318.73,159.79 L319.16,159.85 L319.59,159.92 L320.02,159.98 L320.45,160.05 L320.88,160.11 L321.31,160.18 L321.74,160.24 L322.17,160.31 L322.60,160.37 L323.03,160.44 L323.46,160.50 L323.89,160.57 L324.32,160.63 L324.75,160.70 L325.19,160.76 L325.62,160.83 L326.05,160.89 L326.48,160.96 L326.91,161.02 L327.34,161.09 L327.77,161.16 L328.20,161.22 L328.63,161.29 L329.06,161.35 L329.49,161.42 L329.92,161.48 L330.35,161.55 L330.78,161.61 L331.21,161.68 L331.64,161.74 L332.07,161.81 L332.50,161.87 L332.93,161.94 L333.36,162.00 L333.79,162.07 L334.22,162.13 L334.65,162.20 L335.08,162.26 L335.51,162.33 L335.94,162.39 L336.37,162.46 L336.80,162.52 L337.23,162.59 L337.66,162.65 L338.09,162.72 L338.52,162.78 L338.95,162.85 L339.38,162.92 L339.81,162.98 L340.24,163.05 L340.67,163.11 L341.10,163.18 L341.53,163.24 L341.96,163.31 L342.40,163.37 L342.83,163.44 L343.26,163.50 L343.69,163.57 L344.12,163.63 L344.55,163.70 L344.98,163.77 L345.41,163.83 L345.84,163.90 L346.27,163.96 L346.70,164.03 L347.13,164.09 L347.56,164.16 L347.99,164.22 L348.42,164.29 L348.85,164.35 L349.28,164.42 L349.71,164.49 L350.14,164.55 L350.57,164.62 L351.00,164.68 L351.43,164.75 L351.86,164.81 L352.29,164.88 L352.72,164.95 L353.15,165.01 L353.58,165.08 L354.01,165.14 L354.44,165.21 L354.87,165.28 L355.30,165.34 L355.73,165.41 L356.16,165.47 L356.59,165.54 L357.02,165.61 L357.45,165.67 L357.88,165.74 L358.31,165.80 L358.74,165.87 L359.18,165.94 L359.61,166.00 L360.04,166.07 L360.47,166.13 L360.90,166.20 L361.33,166.27 L361.76,166.33 L362.19,166.40 L362.62,166.47 L363.05,166.53 L363.48,166.60 L363.91,166.67 L364.34,166.73 L364.77,166.80 L365.20,166.87 L365.63,166.93 L366.06,167.00 L366.49,167.07 L366.92,167.13 L367.35,167.20 L367.78,167.27 L368.21,167.33 L368.64,167.40 L369.07,167.47 L369.50,167.53 L369.93,167.60 L370.36,167.67 L370.79,167.73 L371.22,167.80 L371.65,167.87 L372.08,167.94 L372.51,168.00 L372.94,168.07 L373.37,168.14 L373.80,168.20 L374.23,168.27 L374.66,168.34 L375.09,168.41 L375.52,168.47 L375.95,168.54 L376.38,168.61 L376.82,168.68 L377.25,168.74 L377.68,168.81 L378.11,168.88 L378.54,168.95 L378.97,169.01 L379.40,169.08 L379.83,169.15 L380.26,169.22 L380.69,169.29 L381.12,169.35 L381.55,169.42 L381.98,169.49 L382.41,169.56 L382.84,169.63 L383.27,169.70 L383.70,169.76 L384.13,169.83 L384.56,169.90 L384.99,169.97 L385.42,170.04 L385.85,170.11 L386.28,170.17 L386.71,170.24 L387.14,170.31 L387.57,170.38 L388.00,170.45 L388.43,170.52 L388.86,170.59 L389.29,170.66 L389.72,170.72 L390.15,170.79 L390.58,170.86 L391.01,170.93 L391.44,171.00 L391.87,171.07 L392.30,171.14 L392.73,171.21 L393.16,171.28 L393.60,171.35 L394.03,171.42 L394.46,171.49 L394.89,171.56 L395.32,171.63 L395.75,171.69 L396.18,171.76 L396.61,171.83 L397.04,171.90 L397.47,171.97 L397.90,172.04 L398.33,172.11 L398.76,172.18 L399.19,172.25 L399.62,172.32 L400.05,172.39 L400.48,172.46 L400.91,172.54 L401.34,172.61 L401.77,172.68 L402.20,172.75" fill="none" stroke="#0000ff" stroke-width="2.00" stroke-linejoin="round"/>
<path d="M54.96,18.42 L62.76,18.42 L58.86,25.72 Z M61.90,19.65 L69.70,19.65 L65.80,26.95 Z M68.83,20.90 L76.63,20.90 L72.73,28.20 Z M75.77,22.16 L83.57,22.16 L79.67,29.46 Z M82.71,23.44 L90.51,23.44 L86.61,30.74 Z M89.64,24.76 L97.44,24.76 L93.54,32.06 Z M96.58,26.12 L104.38,26.12 L100.48,33.42 Z M103.51,27.54 L111.31,27.54 L107.41,34.84 Z M110.45,29.03 L118.25,29.03 L114.35,36.33 Z M117.39,30.59 L125.19,30.59 L121.29,37.89 Z M124.32,32.26 L132.12,32.26 L128.22,39.56 Z M131.26,34.04 L139.06,34.04 L135.16,41.34 Z M138.19,35.96 L145.99,35.96 L142.09,43.26 Z M145.13,38.05 L152.93,38.05 L149.03,45.35 Z M152.07,40.35 L159.87,40.35 L155.97,47.65 Z M159.00,42.88 L166.80,42.88 L162.90,50.18 Z M165.94,45.72 L173.74,45.72 L169.84,53.02 Z M172.88,48.91 L180.68,48.91 L176.78,56.21 Z M179.81,52.54 L187.61,52.54 L183.71,59.84 Z M186.75,56.71 L194.55,56.71 L190.65,64.01 Z M193.68,61.55 L201.48,61.55 L197.58,68.85 Z M200.62,67.21 L208.42,67.21 L204.52,74.51 Z M207.56,73.86 L215.36,73.86 L211.46,81.16 Z M214.49,81.73 L222.29,81.73 L218.39,89.03 Z M221.43,90.99 L229.23,90.99 L225.33,98.29 Z M228.36,101.78 L236.16,101.78 L232.26,109.08 Z M235.30,114.04 L243.10,114.04 L239.20,121.34 Z M242.24,127.46 L250.04,127.46 L246.14,134.76 Z M249.17,141.41 L256.97,141.41 L253.07,148.71 Z M256.11,155.08 L263.91,155.08 L260.01,162.38 Z M263.05,167.77 L270.85,167.77 L266.95,175.07 Z M269.98,179.05 L277.78,179.05 L273.88,186.35 Z M276.92,188.77 L284.72,188.77 L280.82,196.07 Z M283.85,197.02 L291.65,197.02 L287.75,204.32 Z M290.79,203.98 L298.59,203.98 L294.69,211.28 Z M297.73,209.84 L305.53,209.84 L301.63,217.14 Z M304.66,214.80 L312.46,214.80 L308.56,222.10 Z M311.60,219.02 L319.40,219.02 L315.50,226.32 Z M318.53,222.64 L326.33,222.64 L322.43,229.94 Z M325.47,225.77 L333.27,225.77 L329.37,233.07 Z M332.41,228.49 L340.21,228.49 L336.31,235.79 Z M339.34,230.88 L347.14,230.88 L343.24,238.18 Z M346.28,232.98 L354.08,232.98 L350.18,240.28 Z M353.22,234.84 L361.02,234.84 L357.12,242.14 Z M360.15,236.50 L367.95,236.50 L364.05,243.80 Z M367.09,237.98 L374.89,237.98 L370.99,245.28 Z M374.02,239.32 L381.82,239.32 L377.92,246.62 Z M380.96,240.52 L388.76,240.52 L384.86,247.82 Z M387.90,241.61 L395.70,241.61 L391.80,248.91 Z M394.83,242.59 L402.63,242.59 L398.73,249.89 Z" fill="#808080"/>
<path d="M54.56,21.55 L58.86,17.25 L63.16,21.55 L58.86,25.85 Z M61.50,23.88 L65.80,19.58 L70.10,23.88 L65.80,28.18 Z M68.43,26.23 L72.73,21.93 L77.03,26.23 L72.73,30.53 Z M75.37,28.60 L79.67,24.30 L83.97,28.60 L79.67,32.90 Z M82.31,31.02 L86.61,26.72 L90.91,31.02 L86.61,35.32 Z M89.24,33.50 L93.54,29.20 L97.84,33.50 L93.54,37.80 Z M96.18,36.05 L100.48,31.75 L104.78,36.05 L100.48,40.35 Z M103.11,38.70 L107.41,34.40 L111.71,38.70 L107.41,43.00 Z M110.05,41.46 L114.35,37.16 L118.65,41.46 L114.35,45.76 Z M116.99,44.35 L121.29,40.05 L125.59,44.35 L121.29,48.65 Z M123.92,47.40 L128.22,43.10 L132.52,47.40 L128.22,51.70 Z M130.86,50.62 L135.16,46.32 L139.46,50.62 L135.16,54.92 Z M137.79,54.06 L142.09,49.76 L146.39,54.06 L142.09,58.36 Z M144.73,57.73 L149.03,53.43 L153.33,57.73 L149.03,62.03 Z M151.67,61.66 L155.97,57.36 L160.27,61.66 L155.97,65.96 Z M158.60,65.90 L162.90,61.60 L167.20,65.90 L162.90,70.20 Z M165.54,70.48 L169.84,66.18 L174.14,70.48 L169.84,74.78 Z M172.48,75.42 L176.78,71.12 L181.08,75.42 L176.78,79.72 Z M179.41,80.76 L183.71,76.46 L188.01,80.76 L183.71,85.06 Z M186.35,86.53 L190.65,82.23 L194.95,86.53 L190.65,90.83 Z M193.28,92.74 L197.58,88.44 L201.88,92.74 L197.58,97.04 Z M200.22,99.37 L204.52,95.07 L208.82,99.37 L204.52,103.67 Z M207.16,106.42 L211.46,102.12 L215.76,106.42 L211.46,110.72 Z M214.09,113.81 L218.39,109.51 L222.69,113.81 L218.39,118.11 Z M221.03,121.49 L225.33,117.19 L229.63,121.49 L225.33,125.79 Z M227.96,129.32 L232.26,125.02 L236.56,129.32 L232.26,133.62 Z M234.90,137.20 L239.20,132.90 L243.50,137.20 L239.20,141.50 Z M241.84,144.99 L246.14,140.69 L250.44,144.99 L246.14,149.29 Z M248.77,152.57 L253.07,148.27 L257.37,152.57 L253.07,156.87 Z M255.71,159.84 L260.01,155.54 L264.31,159.84 L260.01,164.14 Z M262.65,166.72 L266.95,162.42 L271.25,166.72 L266.95,171.02 Z M269.58,173.16 L273.88,168.86 L278.18,173.16 L273.88,177.46 Z M276.52,179.13 L280.82,174.83 L285.12,179.13 L280.82,183.43 Z M283.45,184.64 L287.75,180.34 L292.05,184.64 L287.75,188.94 Z M290.39,189.70 L294.69,185.40 L298.99,189.70 L294.69,194.00 Z M297.33,194.34 L301.63,190.04 L305.93,194.34 L301.63,198.64 Z M304.26,198.58 L308.56,194.28 L312.86,198.58 L308.56,202.88 Z M311.20,202.46 L315.50,198.16 L319.80,202.46 L315.50,206.76 Z M318.13,206.01 L322.43,201.71 L326.73,206.01 L322.43,210.31 Z M325.07,209.27 L329.37,204.97 L333.67,209.27 L329.37,213.57 Z M332.01,212.26 L336.31,207.96 L340.61,212.26 L336.31,216.56 Z M338.94,215.00 L343.24,210.70 L347.54,215.00 L343.24,219.30 Z M345.88,217.53 L350.18,213.23 L354.48,217.53 L350.18,221.83 Z M352.82,219.87 L357.12,215.57 L361.42,219.87 L357.12,224.17 Z M359.75,222.04 L364.05,217.74 L368.35,222.04 L364.05,226.34 Z M366.69,224.05 L370.99,219.75 L375.29,224.05 L370.99,228.35 Z M373.62,225.92 L377.92,221.62 L382.22,225.92 L377.92,230.22 Z M380.56,227.66 L384.86,223.36 L389.16,227.66 L384.86,231.96 Z M387.50,229.28 L391.80,224.98 L396.10,229.28 L391.80,233.58 Z M394.43,230.81 L398.73,226.51 L403.03,230.81 L398.73,235.11 Z" fill="#ff0000"/>
<path d="M61.36,18.73 L61.36,27.13 L54.06,22.93 Z M68.30,32.01 L68.30,40.41 L61.00,36.21 Z M75.23,44.60 L75.23,53.00 L67.93,48.80 Z M82.17,56.09 L82.17,64.49 L74.87,60.29 Z M89.11,66.27 L89.11,74.67 L81.81,70.47 Z M96.04,75.15 L96.04,83.55 L88.74,79.35 Z M102.98,82.83 L102.98,91.23 L95.68,87.03 Z M109.91,89.46 L109.91,97.86 L102.61,93.66 Z M116.85,95.22 L116.85,103.62 L109.55,99.42 Z M123.79,100.24 L123.79,108.64 L116.49,104.44 Z M130.72,104.66 L130.72,113.06 L123.42,108.86 Z M137.66,108.57 L137.66,116.97 L130.36,112.77 Z M144.59,112.08 L144.59,120.48 L137.29,116.28 Z M151.53,115.23 L151.53,123.63 L144.23,119.43 Z M158.47,118.10 L158.47,126.50 L151.17,122.30 Z M165.40,120.72 L165.40,129.12 L158.10,124.92 Z M172.34,123.14 L172.34,131.54 L165.04,127.34 Z M179.28,125.38 L179.28,133.78 L171.98,129.58 Z M186.21,127.47 L186.21,135.87 L178.91,131.67 Z M193.15,129.43 L193.15,137.83 L185.85,133.63 Z M200.08,131.29 L200.08,139.69 L192.78,135.49 Z M207.02,133.04 L207.02,141.44 L199.72,137.24 Z M213.96,134.71 L213.96,143.11 L206.66,138.91 Z M220.89,136.31 L220.89,144.71 L213.59,140.51 Z M227.83,137.84 L227.83,146.24 L220.53,142.04 Z M234.76,139.31 L234.76,147.71 L227.46,143.51 Z M241.70,140.74 L241.70,149.14 L234.40,144.94 Z M248.64,142.12 L248.64,150.52 L241.34,146.32 Z M255.57,143.46 L255.57,151.86 L248.27,147.66 Z M262.51,144.76 L262.51,153.16 L255.21,148.96 Z M269.45,146.04 L269.45,154.44 L262.15,150.24 Z M276.38,147.28 L276.38,155.68 L269.08,151.48 Z M283.32,148.50 L283.32,156.90 L276.02,152.70 Z M290.25,149.70 L290.25,158.10 L282.95,153.90 Z M297.19,150.88 L297.19,159.28 L289.89,155.08 Z M304.13,152.04 L304.13,160.44 L296.83,156.24 Z M311.06,153.18 L311.06,161.58 L303.76,157.38 Z M318.00,154.31 L318.00,162.71 L310.70,158.51 Z M324.93,155.42 L324.93,163.82 L317.63,159.62 Z M331.87,156.52 L331.87,164.92 L324.57,160.72 Z M338.81,157.61 L338.81,166.01 L331.51,161.81 Z M345.74,158.69 L345.74,167.09 L338.44,162.89 Z M352.68,159.76 L352.68,168.16 L345.38,163.96 Z M359.62,160.82 L359.62,169.22 L352.32,165.02 Z M366.55,161.87 L366.55,170.27 L359.25,166.07 Z M373.49,162.92 L373.49,171.32 L366.19,167.12 Z M380.42,163.96 L380.42,172.36 L373.12,168.16 Z M387.36,164.99 L387.36,173.39 L380.06,169.19 Z M394.30,166.01 L394.30,174.41 L387.00,170.21 Z M401.23,167.03 L401.23,175.43 L393.93,171.23 Z" fill="#0000ff"/>
</g>
<path d="M72.00,153.70 H104.60" stroke="#808080" stroke-width="2"/>
<path d="M72.00,176.50 H104.60" stroke="#ff0000" stroke-width="2"/>
<path d="M72.00,200.20 H104.60" stroke="#0000ff" stroke-width="2"/>
<path d="M84.40,220.55 L92.20,220.55 L88.30,227.85 Z" fill="#808080"/>
<path d="M84.00,246.05 L88.30,241.75 L92.60,246.05 L88.30,250.35 Z" fill="#ff0000"/>
<path d="M91.30,265.00 L91.30,273.40 L84.00,269.20 Z" fill="#0000ff"/>
<text class="s" transform="translate(113.00,158.90) scale(1.150,1)" font-size="14.8" font-style="italic">θ</text>
<text class="s" x="119.30" y="163.50" font-size="11.5">i</text>
<text class="s" x="125.20" y="158.90" font-size="14.6" xml:space="preserve">= 0<tspan font-size="10" dx="0.00" dy="-5.60">o</tspan></text>
<text class="s" x="160.40" y="158.90" font-size="14.6" xml:space="preserve">(Analytical)</text>
<text class="s" transform="translate(113.00,181.70) scale(1.150,1)" font-size="14.8" font-style="italic">θ</text>
<text class="s" x="119.30" y="186.30" font-size="11.5">i</text>
<text class="s" x="125.20" y="181.70" font-size="14.6" xml:space="preserve">= 60<tspan font-size="10" dx="0.00" dy="-5.60">o</tspan></text>
<text class="s" x="160.40" y="181.70" font-size="14.6" xml:space="preserve">(Analytical)</text>
<text class="s" transform="translate(113.00,205.40) scale(1.150,1)" font-size="14.8" font-style="italic">θ</text>
<text class="s" x="119.30" y="210.00" font-size="11.5">i</text>
<text class="s" x="125.20" y="205.40" font-size="14.6" xml:space="preserve">= 85<tspan font-size="10" dx="0.00" dy="-5.60">o</tspan></text>
<text class="s" x="160.40" y="205.40" font-size="14.6" xml:space="preserve">(Analytical)</text>
<text class="s" transform="translate(113.00,228.75) scale(1.150,1)" font-size="14.8" font-style="italic">θ</text>
<text class="s" x="119.30" y="233.35" font-size="11.5">i</text>
<text class="s" x="125.20" y="228.75" font-size="14.6" xml:space="preserve">= 0<tspan font-size="10" dx="0.00" dy="-5.60">o</tspan></text>
<text class="s" x="160.40" y="228.75" font-size="14.6" xml:space="preserve">(HFSS)</text>
<text class="s" transform="translate(113.00,251.25) scale(1.150,1)" font-size="14.8" font-style="italic">θ</text>
<text class="s" x="119.30" y="255.85" font-size="11.5">i</text>
<text class="s" x="125.20" y="251.25" font-size="14.6" xml:space="preserve">= 60<tspan font-size="10" dx="0.00" dy="-5.60">o</tspan></text>
<text class="s" x="160.40" y="251.25" font-size="14.6" xml:space="preserve">(HFSS)</text>
<text class="s" transform="translate(113.00,274.40) scale(1.150,1)" font-size="14.8" font-style="italic">θ</text>
<text class="s" x="119.30" y="279.00" font-size="11.5">i</text>
<text class="s" x="125.20" y="274.40" font-size="14.6" xml:space="preserve">= 85<tspan font-size="10" dx="0.00" dy="-5.60">o</tspan></text>
<text class="s" x="160.40" y="274.40" font-size="14.6" xml:space="preserve">(HFSS)</text>
</svg></body></html>
